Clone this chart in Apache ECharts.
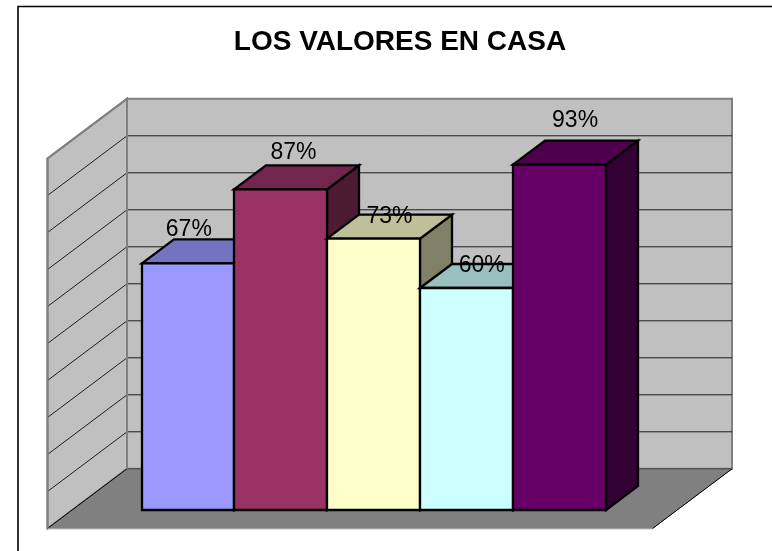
<!DOCTYPE html>
<html><head><meta charset="utf-8">
<style>html,body{margin:0;padding:0;background:#fff}#c{width:772px;height:551px}</style>
<script src="https://cdn.jsdelivr.net/npm/echarts@6/dist/echarts.min.js"></script>
</head><body><div id="c"></div>
<script>
const categories = ['1','2','3','4','5'];
const values = [66.67,86.67,73.33,60,93.33];
const colors = ['#9999FF','#993366','#FFFFCC','#CCFFFF','#660066'];
const topColors = ['#7373BF','#73264D','#BFBF99','#99BFBF','#4D004D'];
const sideColors = ['#4D4D80','#4D1A33','#808066','#668080','#330033'];
const ticks = [0,10,20,30,40,50,60,70,80,90,100];
const title = 'LOS VALORES EN CASA';

// label placement relative to the top-centre of each bar, pixels
const labelDx = [0.8,12.5,15.6,15.1,15.5];
const labelDy = [-33.6,-36.6,-21.7,-22,-44.4];

const BX = 32, BY = 24;          // bar depth, pixels

const chart = echarts.init(document.getElementById('c'), null, {renderer:'canvas'});

chart.setOption({
  animation:false,
  backgroundColor:'#fff',
  title:{text:title,left:395,top:23,textAlign:'center',
    textStyle:{fontFamily:'Liberation Sans',fontSize:28,fontWeight:'bold',color:'#000'}},
  grid:{left:141.6,right:166,top:140,bottom:41},
  xAxis:{type:'category',data:categories,show:false},
  yAxis:{type:'value',min:0,max:100,interval:10,show:false},
  series:[
    // walls and floor
    {type:'custom',coordinateSystem:'cartesian2d',data:[[0,0]],silent:true,z:1,clip:false,
     renderItem(params,api){
       const y0=api.coord([0,0])[1], y100=api.coord([0,100])[1], H=y0-y100;
       const fl=47.5, fb=y0+18.5, bl=127, bb=y0-41.2, br=732, fr=652.5, ft=fb-H, bt=bb-H;
       const ch=[];
       ch.push({type:'polygon',shape:{points:[[bl,bb],[br,bb],[br,bt],[bl,bt]]},style:{fill:'#C0C0C0',stroke:'#808080',lineWidth:2}});
       ch.push({type:'polygon',shape:{points:[[fl,fb],[bl,bb],[bl,bt],[fl,ft]]},style:{fill:'#C0C0C0',stroke:'#808080',lineWidth:2}});
       ch.push({type:'polygon',shape:{points:[[fl,fb],[fr,fb],[br,bb],[bl,bb]]},style:{fill:'#808080',stroke:'#808080',lineWidth:1}});
       ch.push({type:'polyline',shape:{points:[[fl,fb],[bl,bb]]},style:{fill:null,stroke:'#000',lineWidth:1}});
       ch.push({type:'polyline',shape:{points:[[fr,fb],[br,bb]]},style:{fill:null,stroke:'#000',lineWidth:1}});
       ch.push({type:'polyline',shape:{points:[[fl,fb+0.5],[fr,fb+0.5]]},style:{fill:null,stroke:'#C0C0C0',lineWidth:1}});
       ch.push({type:'polyline',shape:{points:[[bl,bb],[br,bb]]},style:{fill:null,stroke:'#404040',lineWidth:1}});
       ticks.forEach(t=>{
         if(t===0||t===100) return;
         const d=api.coord([0,t])[1]-y0;
         ch.push({type:'polyline',shape:{points:[[fl,fb+d],[bl,bb+d],[br,bb+d]]},style:{fill:null,stroke:'#000',lineWidth:1,opacity:0.85}});
       });
       ch.push({type:'polyline',shape:{points:[[bl,bb],[bl,bt],[fl,ft],[fl,fb]]},style:{fill:null,stroke:'#808080',lineWidth:2}});
       return {type:'group',children:ch};
     }},
    // bars
    {type:'custom',coordinateSystem:'cartesian2d',data:values.map((v,i)=>[i,v]),clip:false,z:2,silent:true,
     renderItem(params,api){
       const i=api.value(0), v=api.value(1);
       const top=api.coord([i,v]), base=api.coord([i,0]);
       const w=api.size([1,0])[0];
       const l=Math.round(top[0]-w/2), r=Math.round(top[0]+w/2), t=top[1], b=base[1];
       const S={stroke:'#000',lineWidth:2.3,lineJoin:'miter'};
       return {type:'group',children:[
         {type:'polygon',shape:{points:[[r,b],[r+BX,b-BY],[r+BX,t-BY],[r,t]]},style:{...S,fill:sideColors[i]}},
         {type:'polygon',shape:{points:[[l,t],[l+BX,t-BY],[r+BX,t-BY],[r,t]]},style:{...S,fill:topColors[i]}},
         {type:'rect',shape:{x:l,y:t,width:r-l,height:b-t},style:{...S,fill:colors[i]}}
       ]};
     }},
    // labels drawn above all bars
    {type:'custom',coordinateSystem:'cartesian2d',data:values.map((v,i)=>[i,v]),clip:false,z:3,silent:true,
     renderItem(params,api){
       const i=api.value(0), v=api.value(1);
       const top=api.coord([i,v]);
       return {type:'text',x:top[0]+labelDx[i],y:top[1]+labelDy[i],
         style:{text:Math.round(v)+'%',fill:'#000',font:'23px "Liberation Sans"',textAlign:'center',textVerticalAlign:'middle'}};
     }},
    // frame
    {type:'custom',coordinateSystem:'cartesian2d',data:[[0,0]],silent:true,z:0,clip:false,
     renderItem(){
       return {type:'polyline',shape:{points:[[18,551],[18,6.5],[772,6.5]]},style:{fill:null,stroke:'#000',lineWidth:1.6}};
     }}
  ]
});
</script></body></html>
